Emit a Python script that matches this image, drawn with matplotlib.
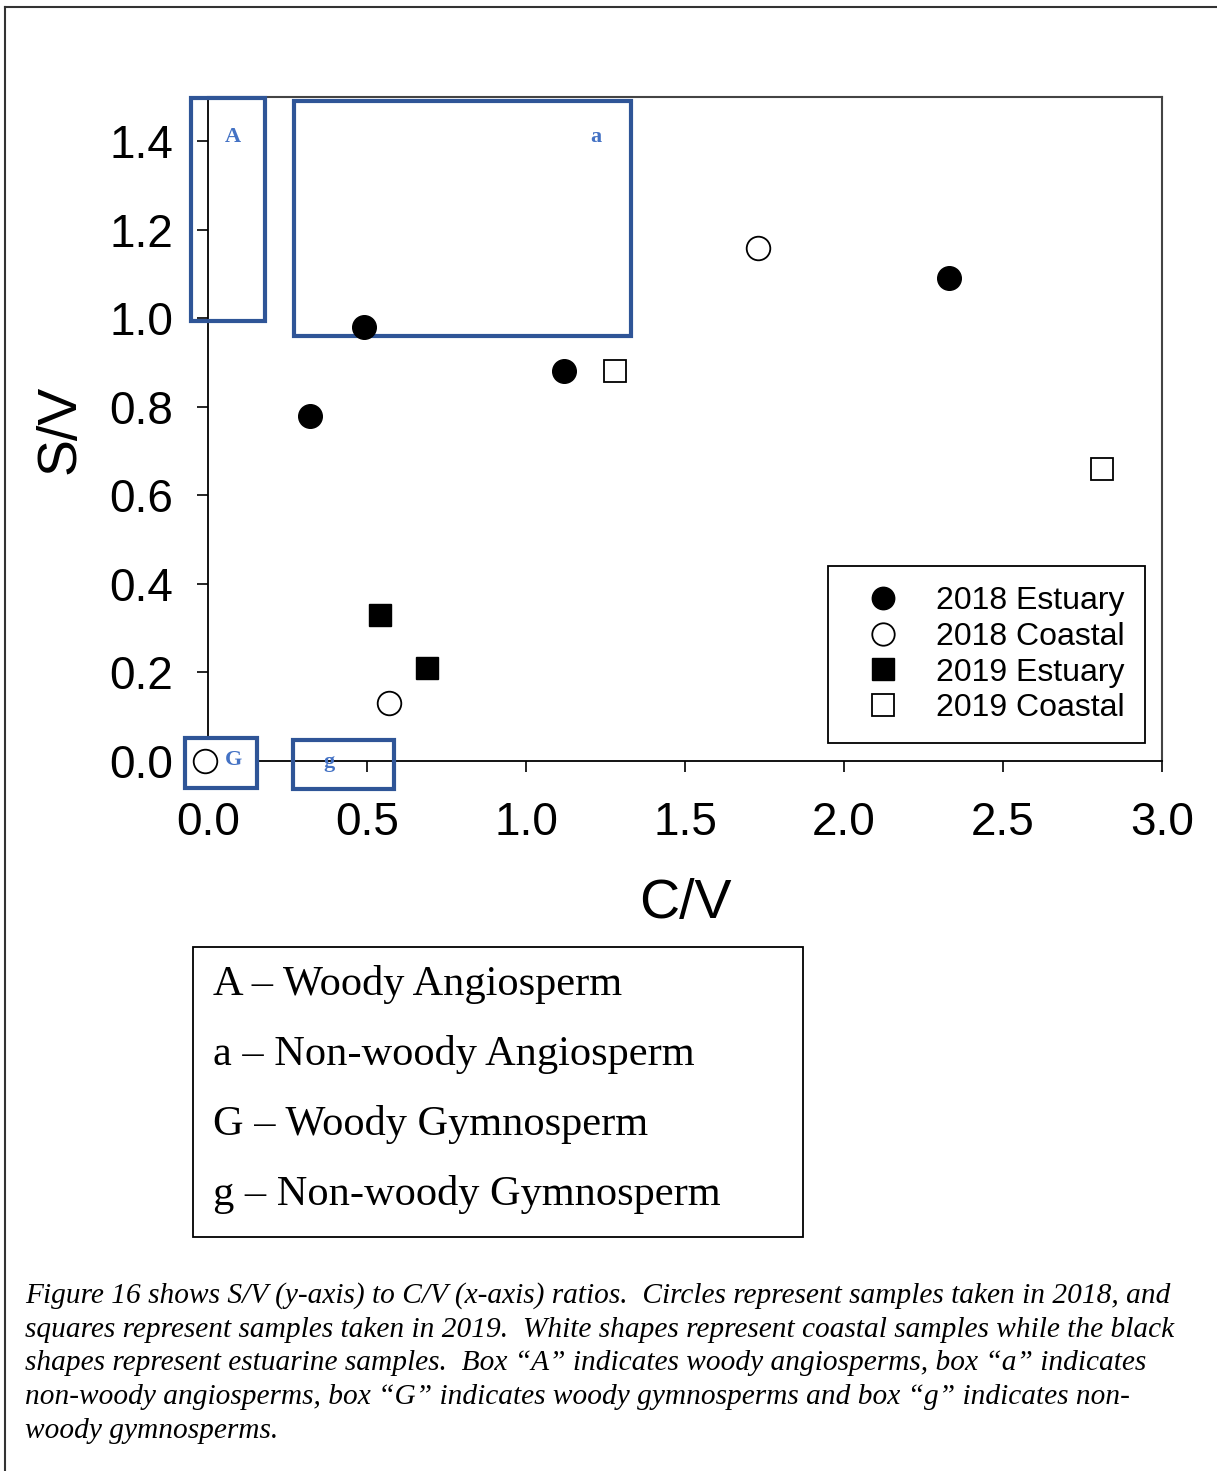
import matplotlib
matplotlib.use("Agg")
import matplotlib.pyplot as plt
from matplotlib.patches import Rectangle
from matplotlib.lines import Line2D

plt.rcParams["font.family"] = ["Liberation Sans", "DejaVu Sans"]

# S/V vs C/V samples
est18_cv = [0.32, 0.49, 1.12, 2.33]
est18_sv = [0.78, 0.98, 0.88, 1.09]
coast18_cv = [1.73, 0.57, -0.01]
coast18_sv = [1.16, 0.13, 0.00]
est19_cv = [0.54, 0.69]
est19_sv = [0.33, 0.21]
coast19_cv = [1.28, 2.81]
coast19_sv = [0.88, 0.66]

# plant-type regions: label, (x0, x1), (y0, y1), label position
region_labels = ["A", "a", "G", "g"]
region_x = [(-0.053, 0.179), (0.27, 1.33), (-0.072, 0.154), (0.267, 0.585)]
region_y = [(0.994, 1.497), (0.960, 1.492), (-0.061, 0.052), (-0.063, 0.047)]
region_text_xy = [(0.079, 1.41), (1.22, 1.41), (0.079, 0.002), (0.381, -0.002)]

key_lines = [
    "A \u2013 Woody Angiosperm",
    "a \u2013 Non-woody Angiosperm",
    "G \u2013 Woody Gymnosperm",
    "g \u2013 Non-woody Gymnosperm",
]

caption = [
    "Figure 16 shows S/V (y-axis) to C/V (x-axis) ratios.  Circles represent samples taken in 2018, and",
    "squares represent samples taken in 2019.  White shapes represent coastal samples while the black",
    "shapes represent estuarine samples.  Box \u201cA\u201d indicates woody angiosperms, box \u201ca\u201d indicates",
    "non-woody angiosperms, box \u201cG\u201d indicates woody gymnosperms and box \u201cg\u201d indicates non-",
    "woody gymnosperms.",
]

W, H = 1217, 1471
BOX_BLUE = "#2F5597"
LABEL_BLUE = "#4472C4"


def fx(x):
    return x / W


def fy(y):
    return 1 - y / H


fig = plt.figure(figsize=(W / 100, H / 100), dpi=100)
ax = fig.add_axes([fx(208), fy(761), fx(1162) - fx(208), fy(97) - fy(761)])

ax.plot(est18_cv, est18_sv, "o", ms=17, mfc="black", mec="black",
        ls="none", label="2018 Estuary", zorder=6, clip_on=False)
ax.plot(coast18_cv, coast18_sv, "o", ms=17, mfc="white", mec="black",
        mew=1.3, ls="none", label="2018 Coastal", zorder=6, clip_on=False)
ax.plot(est19_cv, est19_sv, "s", ms=16, mfc="black", mec="black",
        ls="none", label="2019 Estuary", zorder=6, clip_on=False)
ax.plot(coast19_cv, coast19_sv, "s", ms=16, mfc="white", mec="black",
        mew=1.3, ls="none", label="2019 Coastal", zorder=6, clip_on=False)

ax.set_xlim(0, 3.0)
ax.set_ylim(0, 1.5)
ax.set_xticks([0.0, 0.5, 1.0, 1.5, 2.0, 2.5, 3.0])
ax.set_yticks([0.0, 0.2, 0.4, 0.6, 0.8, 1.0, 1.2, 1.4])
ax.xaxis.set_major_formatter(matplotlib.ticker.FormatStrFormatter("%.1f"))
ax.yaxis.set_major_formatter(matplotlib.ticker.FormatStrFormatter("%.1f"))
ax.tick_params(direction="out", length=8, width=1.2, labelsize=33)
ax.tick_params(axis="x", pad=21)
ax.tick_params(axis="y", pad=17)
for side in ["left", "bottom"]:
    ax.spines[side].set_linewidth(1.3)
for side in ["top", "right"]:
    ax.spines[side].set_linewidth(1.5)
    ax.spines[side].set_color("#444444")

ax.set_xlabel("C/V", fontsize=40, va="center")
ax.xaxis.set_label_coords(0.5, -0.215)
ax.set_ylabel("S/V", fontsize=40, va="center")
ax.yaxis.set_label_coords(-0.155, 0.5)

# blue region boxes; the G box is opaque and sits over the axis corner
for lab, (x0, x1), (y0, y1), (tx, ty) in zip(region_labels, region_x,
                                             region_y, region_text_xy):
    rect = Rectangle((x0, y0), x1 - x0, y1 - y0, fill=(lab == "G"),
                     facecolor="white", edgecolor=BOX_BLUE, linewidth=3,
                     zorder=4, clip_on=False)
    ax.add_patch(rect)
    ax.text(tx, ty, lab, color=LABEL_BLUE, fontsize=16, fontweight="bold",
            family="Liberation Serif", ha="center", va="center", zorder=7,
            clip_on=False)

leg = ax.legend(loc="lower right", bbox_to_anchor=(0.982, 0.027),
                borderaxespad=0, fontsize=23, frameon=True, fancybox=False,
                edgecolor="black", framealpha=1, labelspacing=0.18,
                handlelength=2.2, handletextpad=0.56, borderpad=0.62,
                markerscale=0.95)
leg.get_frame().set_linewidth(1.3)
leg.set_zorder(8)

# outer page frame
fig.add_artist(Line2D([fx(5), fx(5)], [fy(7), 0], color="#333333", lw=1.5))
fig.add_artist(Line2D([fx(5), 1], [fy(7), fy(7)], color="#333333", lw=1.5))

# key for the region boxes
fig.add_artist(Rectangle((fx(193), fy(1237)), fx(803) - fx(193),
                         fy(947) - fy(1237), fill=False, edgecolor="black",
                         lw=1.3, transform=fig.transFigure))
for i, line in enumerate(key_lines):
    fig.text(fx(213), fy(985 + 70 * i), line, family="Liberation Serif",
             fontsize=30.5, ha="left", va="center")

for i, line in enumerate(caption):
    fig.text(fx(25), fy(1296 + 33.7 * i), line, family="Liberation Serif",
             style="italic", fontsize=21.2, ha="left", va="center")

fig.savefig("out.png", dpi=100)
